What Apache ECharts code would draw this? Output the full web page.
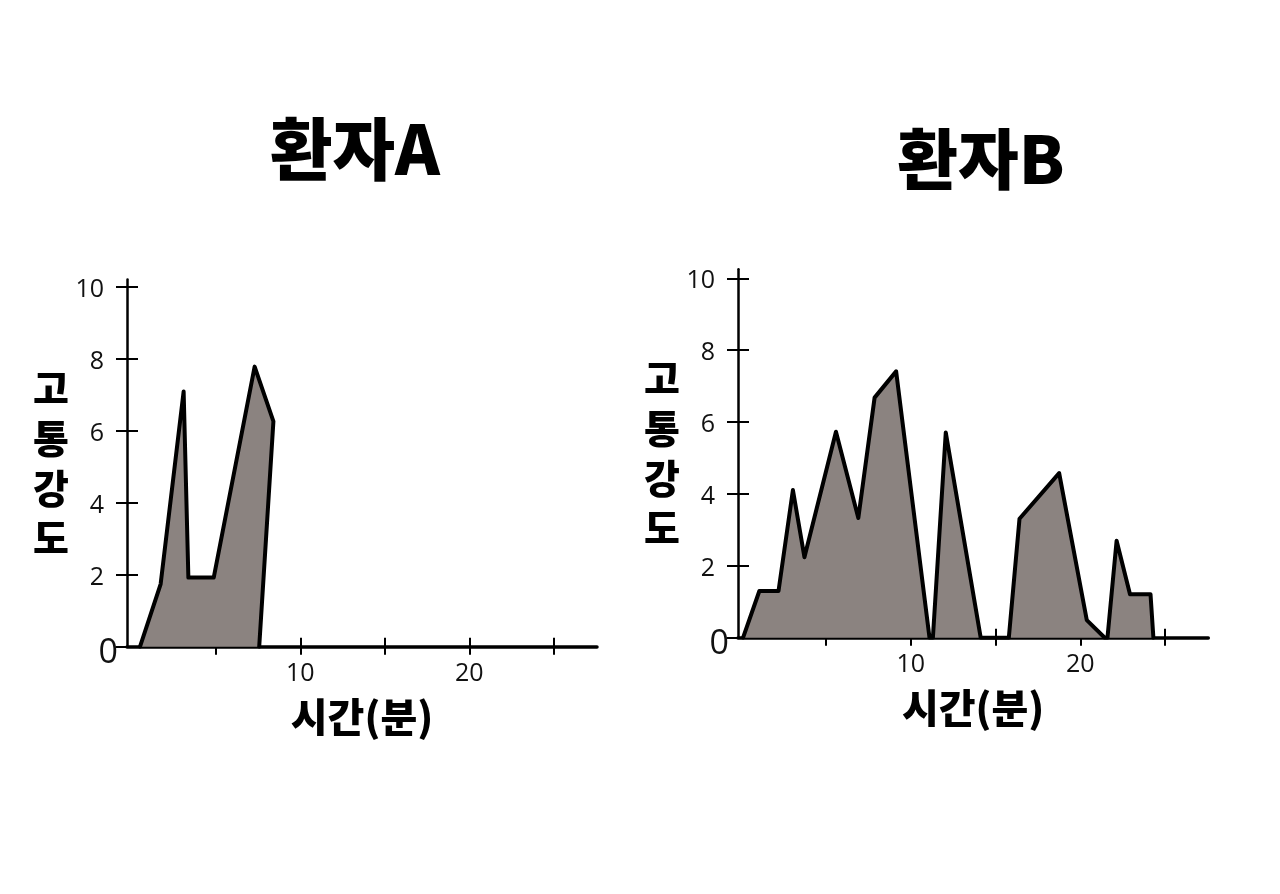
<!DOCTYPE html>
<html>
<head>
<meta charset="utf-8">
<script src="https://cdn.jsdelivr.net/npm/echarts@6/dist/echarts.min.js"></script>
<style>
  html, body { margin: 0; padding: 0; background: #fff; }
  #chart { width: 1280px; height: 894px; }
</style>
</head>
<body>
<div id="chart"></div>
<script>
// 환자A / 환자B 통증 그래프 (시간(분) vs 고통강도)
const titles = ["환자A", "환자B"];
const yName = "고통강도";
const xName = "시간(분)";
const yTicks = [0, 2, 4, 6, 8, 10];
const xTicks = [5, 10, 15, 20, 25];
const xLabels = [10, 20];

// [분, 강도]
const patientA = [
  [0.52, 0], [1.74, 1.74], [3.10, 7.09], [3.38, 1.92], [4.88, 1.92],
  [7.30, 7.78], [8.41, 6.26], [7.57, 0]
];
const patientB = [
  [0.1, 0], [1.06, 1.30], [2.19, 1.30], [3.04, 4.11], [3.72, 2.24],
  [5.58, 5.73], [6.90, 3.33], [7.86, 6.68], [9.13, 7.41], [11.10, 0],
  [11.3, 0], [12.06, 5.71], [14.12, 0], [15.78, 0], [16.41, 3.31],
  [18.75, 4.58], [20.38, 0.49], [21.44, 0], [21.6, 0], [22.14, 2.70],
  [22.93, 1.21], [24.14, 1.21], [24.31, 0]
];

const fillColor = "#8b8380";
const handFont = "'Open Sans', 'DejaVu Sans', sans-serif";
const boldFont = "'Noto Sans CJK KR', sans-serif";

const chart = echarts.init(document.getElementById("chart"));

function makeY(gridIndex, inside) {
  return {
    type: "value",
    gridIndex: gridIndex,
    position: "left",
    min: 0,
    max: gridIndex === 0 ? 10.2 : 10.25,
    splitLine: { show: false },
    axisLine: { show: !inside, onZero: false, lineStyle: { color: "#000", width: 2.5 } },
    axisTick: {
      show: true,
      inside: inside,
      length: 11,
      customValues: yTicks,
      lineStyle: { color: "#000", width: 2 }
    },
    axisLabel: inside ? { show: false } : {
      show: true,
      customValues: yTicks,
      margin: 9,
      fontFamily: handFont,
      fontSize: 25,
      color: "#111",
      formatter: function (v) {
        return v === 0 ? "{z|0}" : "{n|" + v + "}";
      },
      rich: {
        z: { fontSize: 34, fontFamily: handFont, color: "#111", padding: [14, 0, 0, 0] },
        n: { fontSize: 25, fontFamily: handFont, color: "#111", padding: [6, 14, 0, 0] }
      }
    },
    name: inside ? "" : yName.split("").join("\n"),
    nameLocation: "middle",
    nameRotate: 0,
    nameGap: 58,
    nameTextStyle: {
      fontFamily: boldFont,
      fontWeight: 900,
      fontSize: 39,
      lineHeight: 50,
      color: "#000"
    }
  };
}

function makeX(gridIndex, inside) {
  return {
    type: "value",
    gridIndex: gridIndex,
    position: "bottom",
    min: gridIndex === 0 ? -0.25 : -0.2,
    max: 27.55,
    splitLine: { show: false },
    axisLine: { show: !inside, onZero: false, lineStyle: { color: "#000", width: 3.5 } },
    axisTick: {
      show: true,
      inside: inside,
      length: inside ? 9 : 8,
      customValues: xTicks,
      lineStyle: { color: "#000", width: 2 }
    },
    axisLabel: inside ? { show: false } : {
      show: true,
      customValues: xLabels,
      margin: 15,
      fontFamily: handFont,
      fontSize: 25,
      color: "#111"
    },
    name: inside ? "" : xName,
    nameLocation: "middle",
    nameGap: 50,
    nameTextStyle: {
      fontFamily: boldFont,
      fontWeight: 900,
      fontSize: 40,
      color: "#000"
    }
  };
}

function areaSeries(data, idx) {
  return {
    type: "line",
    xAxisIndex: idx * 2,
    yAxisIndex: idx * 2,
    data: data,
    symbol: "none",
    smooth: false,
    lineStyle: { color: "#000", width: 4, join: "round", cap: "round" },
    areaStyle: { color: fillColor, opacity: 1, origin: 0 },
    z: 5
  };
}

const option = {
  backgroundColor: "#fff",
  animation: false,
  title: [
    {
      text: titles[0], left: 350, top: 110, textAlign: "center",
      textStyle: { fontFamily: boldFont, fontWeight: 900, fontSize: 68, color: "#000" }
    },
    {
      text: titles[1], left: 976, top: 121, textAlign: "center",
      textStyle: { fontFamily: boldFont, fontWeight: 900, fontSize: 66, color: "#000" }
    }
  ],
  grid: [
    { left: 127, top: 279.5, width: 470, height: 367.2 },
    { left: 738, top: 269.3, width: 470.3, height: 368.4 }
  ],
  xAxis: [makeX(0, false), makeX(0, true), makeX(1, false), makeX(1, true)],
  yAxis: [makeY(0, false), makeY(0, true), makeY(1, false), makeY(1, true)],
  series: [
    areaSeries(patientA, 0),
    areaSeries(patientB, 1)
  ]
};

chart.setOption(option);
</script>
</body>
</html>
